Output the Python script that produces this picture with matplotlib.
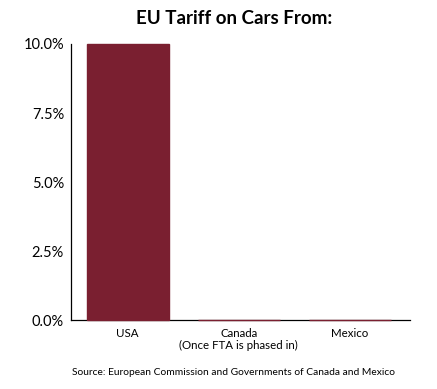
import matplotlib.pyplot as plt
import numpy as np

plt.rcParams['font.family'] = ['Lato', 'DejaVu Sans']

countries = ['USA', 'Canada\n(Once FTA is phased in)', 'Mexico']
tariff = [10.0, 0.0, 0.0]
yticks = [0, 2.5, 5.0, 7.5, 10.0]
colour = '#7a1f30'

fig = plt.figure(figsize=(4.37, 3.89), dpi=100)
ax = fig.add_axes([0.1625, 0.177, 0.7755, 0.71])

x = np.arange(len(countries))
bars = ax.bar(x, tariff, 0.74, color=colour, edgecolor=colour, linewidth=1.0, zorder=3)
for b in bars:
    b.set_clip_on(False)

ax.set_xlim(-0.51, 2.54)
ax.set_ylim(0, 10)
ax.set_yticks(yticks)
ax.set_yticklabels(['%.1f%%' % v for v in yticks], fontsize=10.5)
ax.set_xticks(x)
ax.set_xticklabels(countries, fontsize=8.3, linespacing=1.1)
ax.tick_params(axis='both', length=0, pad=6)
ax.tick_params(axis='y', pad=5)
for s in ['top', 'right']:
    ax.spines[s].set_visible(False)
for s in ['left', 'bottom']:
    ax.spines[s].set_linewidth(0.9)

fig.text(0.535, 0.953, 'EU Tariff on Cars From:', ha='center', va='center',
         fontsize=13.5, fontweight='bold')
fig.text(0.535, 0.042, 'Source: European Commission and Governments of Canada and Mexico',
         ha='center', va='center', fontsize=7.4)

fig.savefig('out.png', dpi=100)
